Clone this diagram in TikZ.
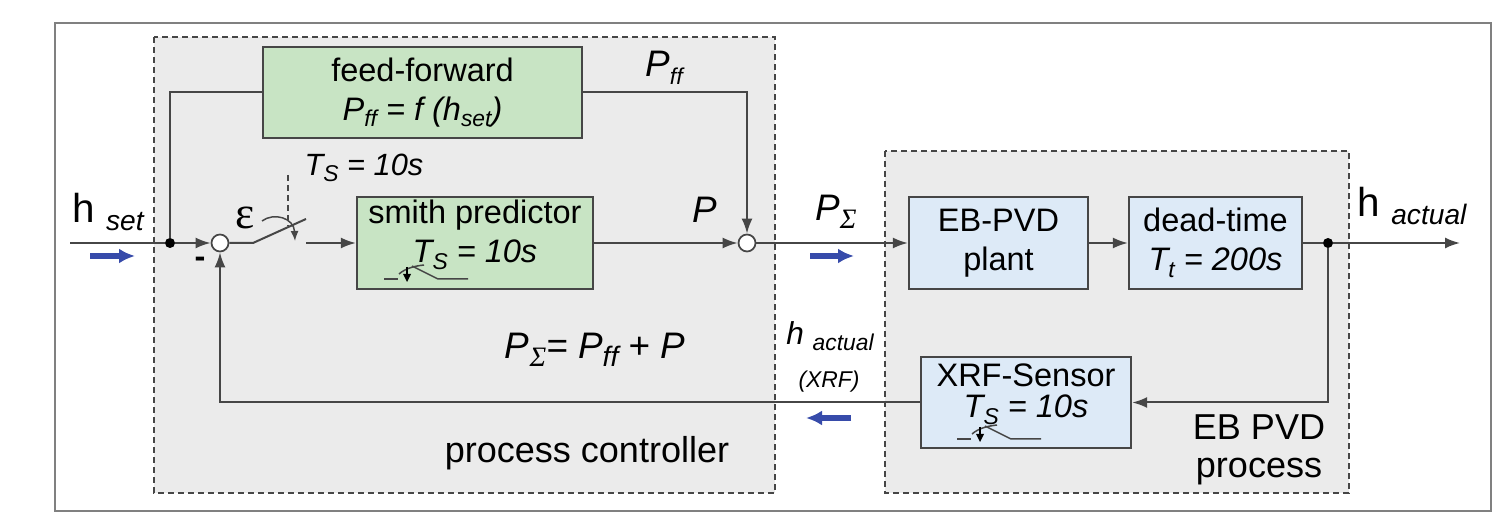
\documentclass[tikz,border=0pt]{standalone}
\usepackage{fontspec}
\setmainfont{Liberation Sans}
\newfontfamily\serifgreek{Liberation Serif}
\usetikzlibrary{arrows.meta}

\definecolor{ctrlgreen}{RGB}{200,228,196}
\definecolor{plantblue}{RGB}{221,234,247}
\definecolor{groupgray}{RGB}{235,235,235}
\definecolor{linegray}{RGB}{70,70,70}
\definecolor{flowblue}{RGB}{55,75,170}

\newcommand{\lowsub}[1]{\raisebox{-0.4ex}{\fontsize{13}{13}\selectfont #1}}
\newcommand{\biglowsub}[1]{\raisebox{-0.4ex}{\fontsize{16}{16}\selectfont #1}}
\newcommand{\boxfont}{\fontsize{18.5}{22}\selectfont}
\newcommand{\bigfont}{\fontsize{21}{24}\selectfont}

\tikzset{
  block/.style={draw=linegray, line width=0.45mm, inner sep=0pt, font=\boxfont, align=center},
  ctrlblock/.style={block, fill=ctrlgreen},
  plantblock/.style={block, fill=plantblue},
  sumnode/.style={circle, draw=linegray, fill=white, line width=0.35mm, minimum size=3.4mm, inner sep=0pt},
  joint/.style={circle, fill=black, minimum size=2mm, inner sep=0pt},
  group/.style={draw=linegray, fill=groupgray, dash pattern=on 1.2mm off 0.8mm, line width=0.3mm},
  flow/.style={draw=linegray, line width=0.4mm},
  bluearrow/.style={-{Latex[length=3.2mm,width=3mm]}, draw=flowblue, line width=1.1mm},
  lbl/.style={font=\bigfont},
  sampler/.pic={
    \draw[linegray, line width=0.3mm] (0,0) -- (14,0);
    \draw[linegray, line width=0.3mm] (28,-13) -- (54,0) -- (84,0);
    \draw[linegray, line width=0.3mm] (15,-5) .. controls (22,-11) and (31,-13) .. (40,-14);
    \draw[line width=0.35mm] (23,-12) -- (23,-4);
    \fill (19,-5) -- (27,-5) -- (23,3) -- cycle;
  },
}

\begin{document}
\begin{tikzpicture}[x=0.2mm, y=-0.2mm, >={Latex[length=3mm,width=2.2mm]}]
\useasboundingbox (0,0) rectangle (1509,531);
\draw[draw=gray, line width=0.5mm, fill=white] (55,23) rectangle (1491,511);
% groups
\draw[group] (154,37) rectangle (775,493);
\draw[group] (885,151) rectangle (1349,493);

% blocks
\node[ctrlblock, minimum width=63.8mm, minimum height=18.2mm] (ff) at (422.5,92.5) {feed-forward\\ \textit{P\lowsub{ff} = f (h\lowsub{set})}};
\node[ctrlblock, minimum width=47.2mm, minimum height=18.4mm] (smith) at (475,243) {};
\node[font=\boxfont, align=center] (smithtxt) at (475,235) {smith predictor\\ \textit{T\lowsub{S} = 10s}};
\pic at (384,279) {sampler};
\node[plantblock, minimum width=35.8mm, minimum height=18.4mm] (plant) at (998.5,243) {EB-PVD\\plant};
\node[plantblock, minimum width=34.6mm, minimum height=18.4mm] (dead) at (1215.5,243) {dead-time\\ \textit{T\lowsub{t} = 200s}};
\node[plantblock, minimum width=42mm, minimum height=18.2mm] (xrf) at (1026,402.5) {};
\node[font=\boxfont, align=center] (xrftxt) at (1026,394) {XRF-Sensor\\[-1.5mm] \textit{T\lowsub{S} = 10s}};
\pic at (957,439) {sampler};

% junctions
\node[sumnode] (s1) at (220,243) {};
\node[sumnode] (s2) at (747,243) {};
\node[joint] (j1) at (170,243) {};
\node[joint] (j2) at (1328,243) {};
\coordinate (hin) at (70,243);
\coordinate (hout) at (1460,243);
\coordinate (sw1) at (253,243);
\coordinate (sw2) at (306,219);
\coordinate (sw3) at (306,243);
\coordinate (tstop) at (288,175);
\coordinate (tsbot) at (288,226);
\coordinate (arcin) at (262,221);
\coordinate (arcout) at (295,241);

% signal flow
\draw[flow] (hin) -- (j1);
\draw[flow,->] (j1) -- (s1);
\draw[flow] (j1) |- (ff.west);
\draw[flow] (s1) -- (sw1) -- (sw2);
\draw[flow, dash pattern=on 1.2mm off 0.8mm] (tstop) -- (tsbot);
\draw[flow, line width=0.3mm, -{Latex[length=2mm,width=1.6mm]}] (arcin) .. controls (274,212) and (294,218) .. (arcout);
\draw[flow,->] (sw3) -- (smith);
\draw[flow,->] (smith) -- (s2);
\draw[flow,->] (ff.east) -| (s2);
\draw[flow,->] (s2) -- (plant);
\draw[flow,->] (plant) -- (dead);
\draw[flow] (dead) -- (j2);
\draw[flow,->] (j2) -- (hout);
\draw[flow,->] (j2) |- (xrf.east);
\draw[flow,->] (xrf.west) -| (s1.south);

% direction arrows
\coordinate (bin1) at (90,256);
\coordinate (bin2) at (135,256);
\coordinate (bmid1) at (810,256);
\coordinate (bmid2) at (854,256);
\coordinate (bfb1) at (851,418);
\coordinate (bfb2) at (806,418);
\draw[bluearrow] (bin1) -- (bin2);
\draw[bluearrow] (bmid1) -- (bmid2);
\draw[bluearrow] (bfb1) -- (bfb2);

% labels
\node[font=\fontsize{23}{26}\selectfont] (hsetlbl) at (108,212) {h \biglowsub{\itshape set}};
\node[font={\serifgreek\fontsize{26}{26}\selectfont}] (epslbl) at (245,218) {ε};
\node[font=\bfseries\boxfont] (minuslbl) at (200,262) {-};
\node[font=\fontsize{17.5}{20}\selectfont] (tslbl) at (364,168) {\textit{T\lowsub{S} = 10s}};
\node[lbl] (pfflbl) at (664,68) {\textit{P\lowsub{ff}}};
\node[lbl] (plbl) at (705,210) {\textit{P}};
\node[lbl] (psumlbl) at (836,212) {\textit{P}\biglowsub{\serifgreek\itshape Σ}};
\node[font=\fontsize{23}{26}\selectfont] (houtlbl) at (1412,206) {h \biglowsub{\itshape actual}};
\node[font=\fontsize{18}{20}\selectfont] (hfblbl) at (830,336) {\textit{h \lowsub{actual}}};
\node[font=\fontsize{13}{15}\selectfont] (xrflbl) at (829,382) {\textit{(XRF)}};
\node[lbl] (sumeq) at (595,350) {\textit{P}\biglowsub{\serifgreek\itshape Σ}\textit{= P\biglowsub{ff} + P}};
\node[font=\fontsize{20.5}{23}\selectfont] (ctrllbl) at (587,453) {process controller};
\node[font=\fontsize{20.5}{22}\selectfont, align=center] (proclbl) at (1259,450) {EB PVD\\process};
\end{tikzpicture}
\end{document}
